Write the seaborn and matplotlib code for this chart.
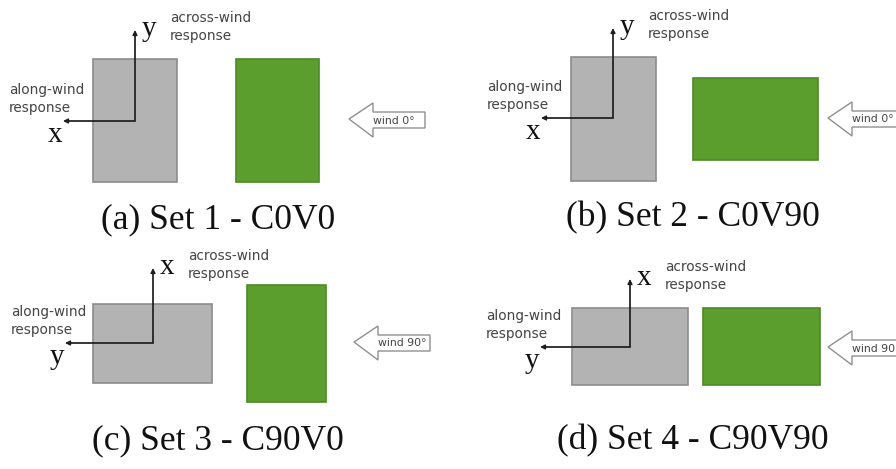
import matplotlib
matplotlib.use("Agg")
import matplotlib.pyplot as plt
from matplotlib.patches import Rectangle, Polygon
import seaborn as sns

sns.set_theme(style="white")
plt.rcParams["font.family"] = ["DejaVu Sans"]

# Four test configurations (one panel each)
captions = ["(a) Set 1 - C0V0", "(b) Set 2 - C0V90",
            "(c) Set 3 - C90V0", "(d) Set 4 - C90V90"]
wind_labels = ["wind 0\u00b0", "wind 0\u00b0", "wind 90\u00b0", "wind 90\u00b0"]
up_axis = ["y", "y", "x", "x"]      # across-wind response axis
left_axis = ["x", "x", "y", "y"]    # along-wind response axis

# Building footprints: (x0, y0, x1, y1) in canvas units
gray_boxes = [(93, 59, 177, 182), (571, 57, 656, 181),
              (93, 304, 212, 383), (572, 308, 688, 385)]
green_boxes = [(236, 59, 319, 182), (693, 78, 818, 160),
               (247, 285, 326, 402), (703, 308, 820, 385)]

# Response-axis corners and extents
corners = [(135, 121), (613, 118), (153, 343), (630, 347)]
up_ends = [30, 28, 268, 279]
left_ends = [63, 541, 65, 540]

# Wind arrow tips and caption anchors
wind_tips = [(349, 119), (828, 118), (354, 342), (828, 347)]
caption_pos = [(218, 220), (693, 218), (218, 441), (693, 441)]

W, H = 896, 469
fig = plt.figure(figsize=(W / 100, H / 100), dpi=100)
ax = fig.add_axes([0, 0, 1, 1])
ax.set_xlim(0, W)
ax.set_ylim(H, 0)
ax.axis("off")

GRAY, GRAY_EDGE = "#b3b3b3", "#8c8c8c"
GREEN, GREEN_EDGE = "#5b9e2d", "#4d8a26"
AX_COLOR = "#1e1e1e"
serif = ["Liberation Serif", "DejaVu Serif"]

for i in range(4):
    gx0, gy0, gx1, gy1 = gray_boxes[i]
    ax.add_patch(Rectangle((gx0, gy0), gx1 - gx0, gy1 - gy0,
                           facecolor=GRAY, edgecolor=GRAY_EDGE, lw=1.2, zorder=1))
    qx0, qy0, qx1, qy1 = green_boxes[i]
    ax.add_patch(Rectangle((qx0, qy0), qx1 - qx0, qy1 - qy0,
                           facecolor=GREEN, edgecolor=GREEN_EDGE, lw=1.2, zorder=1))

    # response axes
    cx, cy = corners[i]
    top, left = up_ends[i], left_ends[i]
    ax.plot([left + 4, cx, cx], [cy, cy, top + 4], color=AX_COLOR, lw=1.25,
            solid_joinstyle="miter", zorder=3)
    ax.annotate("", xy=(cx, top), xytext=(cx, top + 6),
                arrowprops=dict(arrowstyle="-|>", color=AX_COLOR, lw=1.0,
                                mutation_scale=7, shrinkA=0, shrinkB=0), zorder=3)
    ax.annotate("", xy=(left, cy), xytext=(left + 6, cy),
                arrowprops=dict(arrowstyle="-|>", color=AX_COLOR, lw=1.0,
                                mutation_scale=7, shrinkA=0, shrinkB=0), zorder=3)

    ax.text(cx + 7, top - 1, up_axis[i], family=serif, fontsize=21,
            color="#111111", ha="left", va="center", zorder=4)
    ax.text(cx + 35, top - 3, "across-wind\nresponse", fontsize=9.8,
            color="#444444", ha="left", va="center", linespacing=1.35, zorder=4)
    ax.text(left - 54, cy - 22, "along-wind\nresponse", fontsize=9.8,
            color="#444444", ha="left", va="center", linespacing=1.35, zorder=4)
    ax.text(left - 8, cy + 14, left_axis[i], family=serif, fontsize=21,
            color="#111111", ha="center", va="center", zorder=4)

    # wind arrow
    tx, ty = wind_tips[i]
    pts = [(tx, ty), (tx + 24, ty - 16), (tx + 24, ty - 7), (tx + 76, ty - 7),
           (tx + 76, ty + 9), (tx + 24, ty + 9), (tx + 24, ty + 18)]
    ax.add_patch(Polygon(pts, closed=True, facecolor="white",
                         edgecolor="#8f8f8f", lw=1.0, zorder=2, clip_on=True))
    ax.text(tx + 24, ty + 1.5, wind_labels[i], fontsize=7.8, color="#444444",
            ha="left", va="center", zorder=4)

    px, py = caption_pos[i]
    ax.text(px, py, captions[i], family=serif, fontsize=25.5, color="#111111",
            ha="center", va="center", zorder=4)

fig.savefig("out.png", dpi=100)
